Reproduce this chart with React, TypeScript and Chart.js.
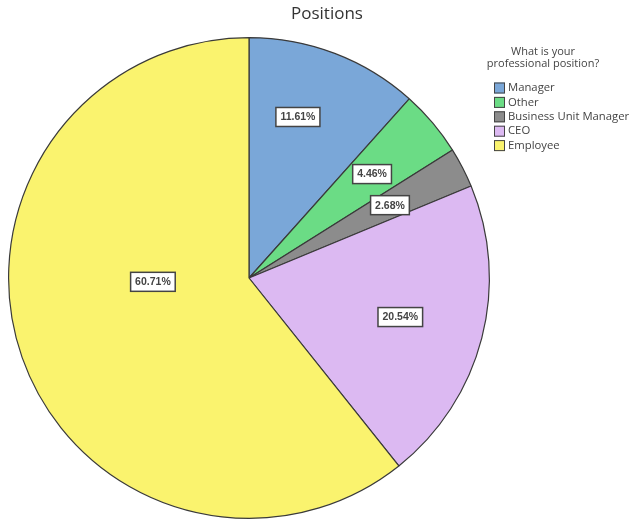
import React, { useEffect, useRef } from "react";
import { Chart, registerables } from "chart.js";

Chart.register(...registerables);

const categories = ["Manager", "Other", "Business Unit Manager", "CEO", "Employee"];
const values = [11.61, 4.46, 2.68, 20.54, 60.71];
const colors = ["#7aa7d8", "#6bdc85", "#8c8c8c", "#dcb9f2", "#faf36e"];
const chartTitle = "Positions";
const legendTitle = ["What is your", "professional position?"];
// label placement (fraction of radius, angle shift in degrees)
const labelRadius = [0.7, 0.67, 0.66, 0.65, 0.4];
const labelShift = [-4, 0, 0, 0, 17];

const overlayPlugin = {
  id: "overlay",
  afterDraw(chart: any) {
    const ctx = chart.ctx as CanvasRenderingContext2D;
    const meta = chart.getDatasetMeta(0);
    ctx.save();
    // title
    ctx.fillStyle = "#333";
    ctx.font = "17px 'Open Sans'";
    ctx.textAlign = "center";
    ctx.textBaseline = "middle";
    ctx.fillText(chartTitle, 327, 14);
    // labels
    ctx.font = "bold 10.5px 'Liberation Sans'";
    meta.data.forEach((arc: any, i: number) => {
      const p = arc.getProps(["x", "y", "startAngle", "endAngle", "outerRadius"], true);
      const mid = (p.startAngle + p.endAngle) / 2 + (labelShift[i] * Math.PI) / 180;
      const r = p.outerRadius * labelRadius[i];
      const x = p.x + Math.cos(mid) * r;
      const y = p.y + Math.sin(mid) * r;
      const txt = values[i].toFixed(2) + "%";
      const w = ctx.measureText(txt).width + 9;
      const h = 19;
      ctx.fillStyle = "#fff";
      ctx.fillRect(x - w / 2, y - h / 2, w, h);
      ctx.strokeStyle = "#444";
      ctx.lineWidth = 1.5;
      ctx.strokeRect(x - w / 2, y - h / 2, w, h);
      ctx.fillStyle = "#444";
      ctx.textAlign = "center";
      ctx.fillText(txt, x, y + 0.5);
    });
    // legend
    ctx.font = "11px 'Open Sans'";
    ctx.fillStyle = "#444";
    ctx.textAlign = "center";
    ctx.fillText(legendTitle[0], 543, 52);
    ctx.fillText(legendTitle[1], 543, 64);
    ctx.font = "11.3px 'Open Sans'";
    ctx.textAlign = "left";
    categories.forEach((c, i) => {
      const y = 88 + i * 14.4;
      ctx.fillStyle = colors[i];
      ctx.fillRect(494, y - 5.5, 11, 11);
      ctx.strokeStyle = "#444";
      ctx.lineWidth = 1;
      ctx.strokeRect(494.5, y - 5, 10, 10);
      ctx.fillStyle = "#444";
      ctx.fillText(c, 508, y);
    });
    ctx.restore();
  },
};

export default function App() {
  const ref = useRef<HTMLCanvasElement>(null);
  useEffect(() => {
    const chart = new Chart(ref.current!, {
      type: "pie",
      data: {
        labels: categories,
        datasets: [
          {
            data: values,
            backgroundColor: colors,
            borderColor: "#3a3a3a",
            borderWidth: 1.2,
          },
        ],
      },
      options: {
        responsive: false,
        animation: false,
        layout: { padding: { left: 7, right: 141, top: 37, bottom: 4 } },
        plugins: {
          legend: { display: false },
          title: { display: false },
          tooltip: { enabled: false },
        },
      },
      plugins: [overlayPlugin],
    });
    return () => chart.destroy();
  }, []);
  return (
    <div style={{ position: "fixed", left: 0, top: 0, width: 632, height: 523, background: "#fff" }}>
      <canvas ref={ref} width={632} height={523} />
    </div>
  );
}
